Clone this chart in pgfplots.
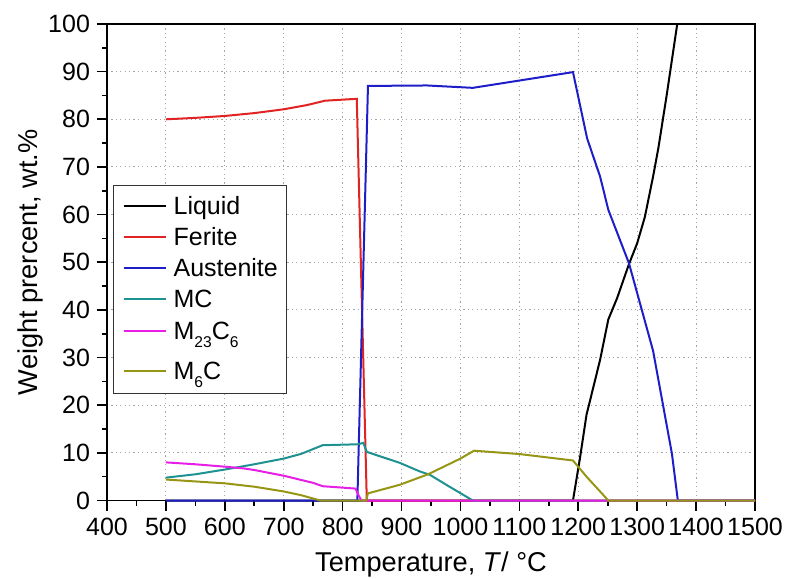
\documentclass[border=0pt]{standalone}
\usepackage{fontspec}
\setmainfont{Liberation Sans}
\usepackage{pgfplots}
\pgfplotsset{compat=1.18}

\definecolor{cFerrite}{RGB}{225,35,35}
\definecolor{cAust}{RGB}{30,30,200}
\definecolor{cMC}{RGB}{30,145,145}
\definecolor{cM23}{RGB}{230,30,230}
\definecolor{cM6}{RGB}{150,150,20}

% subscripts set in the text font, low like the original
\newcommand{\sub}[1]{\raisebox{-3.7pt}{\fontsize{7.8}{8}\selectfont #1}}
\newcommand{\lst}{\rule[-4pt]{0pt}{15.5pt}}

\begin{document}
\begin{tikzpicture}
\begin{axis}[
  width=324pt, height=238.25pt, scale only axis,
  xmin=400, xmax=1500, ymin=0, ymax=100,
  xtick={400,500,...,1500}, ytick={0,10,...,100},
  minor x tick num=1, minor y tick num=1,
  tick align=outside, tick pos=left,
  major tick length=5pt, minor tick length=2.5pt,
  every tick/.style={black, line width=0.8pt},
  axis line style={black, line width=0.9pt},
  grid=major,
  grid style={gray!70, line width=0.5pt, dash pattern=on 0.6pt off 1.6pt},
  clip=false,
  tick label style={font=\fontsize{12.5}{15}\selectfont},
  /pgf/number format/assume math mode=true,
  /pgf/number format/set thousands separator={},
  xlabel={Temperature, \textit{T}/ °C},
  ylabel={Weight prercent, wt.\%},
  label style={font=\fontsize{13.6}{16}\selectfont},
  xlabel style={at={(axis description cs:0.5,-0.15)}, anchor=base},
  ylabel style={at={(axis description cs:-0.1188,0.5)}, anchor=center},
  legend style={at={(0.00926,0.6621)}, anchor=north west, draw=black!80,
    line width=0.6pt, inner xsep=4.5pt, inner ysep=3pt,
    font=\fontsize{12.5}{15}\selectfont,
    cells={anchor=base west}, nodes={inner sep=0pt, text depth=},
    column sep=3.5pt, row sep=0pt},
  legend image code/.code={\draw[#1, line width=1pt] (0pt,4.5pt) -- (21pt,4.5pt);},
  every axis plot/.append style={line width=1pt},
]
\addplot[draw=black] coordinates {
  (500,0) (1191,0) (1203,9) (1214,18) (1226,24) (1237,29.5) (1251,38)
  (1266,42.5) (1286,49.6) (1300,54) (1313,59.5) (1327,68) (1336,74)
  (1350,85) (1368,100)};
\addlegendentry{Liquid\lst}

\addplot[draw=cFerrite] coordinates {
  (500,80) (550,80.3) (600,80.7) (650,81.3) (700,82.1) (740,83)
  (770,83.9) (824,84.3) (841,0) (1500,0)};
\addlegendentry{Ferite\lst}

\addplot[draw=cAust] coordinates {
  (500,0) (825,0) (843,87) (943,87.1) (1021,86.6) (1191,89.9)
  (1215,76) (1237,68) (1251,61) (1286,49.8) (1327,31.4) (1359,9.8)
  (1369,0) (1500,0)};
\addlegendentry{Austenite\lst}

\addplot[draw=cMC] coordinates {
  (500,4.8) (550,5.5) (600,6.5) (650,7.6) (700,8.8) (730,9.8)
  (766,11.6) (826,11.8) (835,12.1) (841,10.2) (897,7.9) (931,6.1)
  (948,5.4) (980,3.0) (1021,0) (1500,0)};
\addlegendentry{MC\lst}

\addplot[draw=cM23] coordinates {
  (500,8.0) (550,7.6) (600,7.1) (631,6.75) (650,6.4) (700,5.2)
  (750,3.7) (766,3.0) (800,2.7) (822,2.5) (826,1.3) (832,0) (1500,0)};
\addlegendentry{M\sub{23}C\sub{6}\rule[-8.5pt]{0pt}{20.5pt}}

\addplot[draw=cM6] coordinates {
  (500,4.4) (550,4.0) (600,3.6) (650,2.9) (700,1.9) (730,1.1)
  (762,0) (840,0) (843,1.5) (897,3.3) (945,5.5) (1000,8.8)
  (1023,10.45) (1100,9.75) (1191,8.4) (1214,5.0) (1237,1.9)
  (1251,0) (1500,0)};
\addlegendentry{M\sub{6}C\lst}
\end{axis}
\pgfresetboundingbox
\path[use as bounding box] (-53.5pt,-38.75pt) rectangle (339pt,250.25pt);
\end{tikzpicture}
\end{document}
